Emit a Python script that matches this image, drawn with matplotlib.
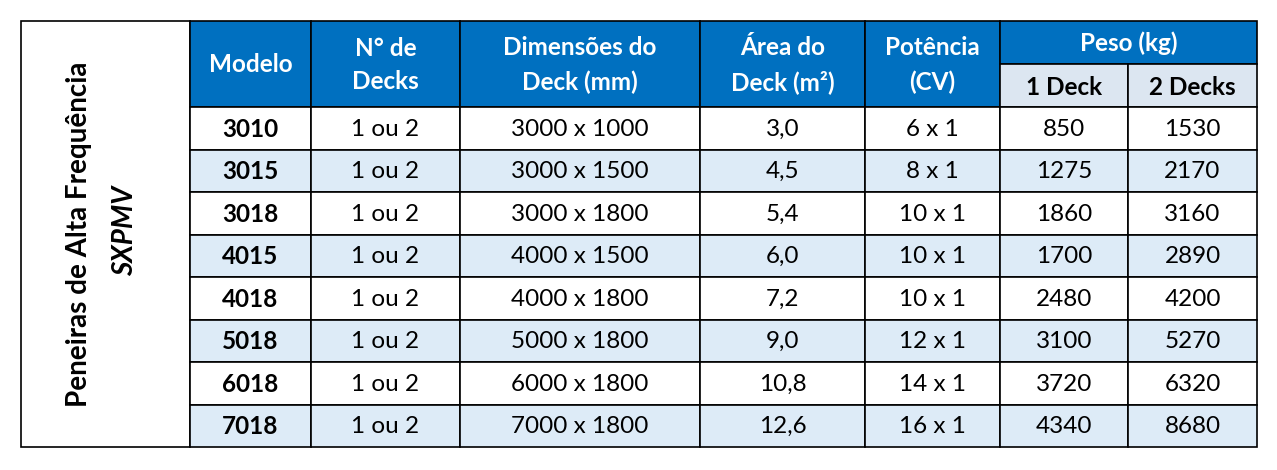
import matplotlib
matplotlib.use("Agg")
import matplotlib.pyplot as plt
from matplotlib.patches import Rectangle

plt.rcParams['font.family'] = ['Lato', 'DejaVu Sans']

# =================================================
# DATA
# =================================================
modelos = ["3010", "3015", "3018", "4015", "4018", "5018", "6018", "7018"]
decks = ["1 ou 2"] * 8
dimensoes = ["3000 x 1000", "3000 x 1500", "3000 x 1800", "4000 x 1500",
             "4000 x 1800", "5000 x 1800", "6000 x 1800", "7000 x 1800"]
areas = ["3,0", "4,5", "5,4", "6,0", "7,2", "9,0", "10,8", "12,6"]
potencias = ["6 x 1", "8 x 1", "10 x 1", "10 x 1", "10 x 1", "12 x 1", "14 x 1", "16 x 1"]
peso_1 = ["850", "1275", "1860", "1700", "2480", "3100", "3720", "4340"]
peso_2 = ["1530", "2170", "3160", "2890", "4200", "5270", "6320", "8680"]
headers = ["Modelo", "N° de\nDecks", "Dimensões do\nDeck (mm)", "Área do\nDeck (m²)", "Potência\n(CV)"]
sub_headers = ["1 Deck", "2 Decks"]

# =================================================
# LAYOUT (pixels)
# =================================================
BLUE = "#0070c0"
SUB = "#dce6f1"
ALT = "#ddebf7"
FS = 17.5
cols = [190, 311, 460, 700, 865, 1000, 1128, 1257]
top, hdr_mid, hdr_bot, bottom = 21, 64, 107, 447
row_h = (bottom - hdr_bot) / len(modelos)

fig = plt.figure(figsize=(12.77, 4.70), dpi=100)
ax = fig.add_axes([0, 0, 1, 1])
ax.set_xlim(0, 1277)
ax.set_ylim(470, 0)
ax.axis("off")

def cell(x0, x1, y0, y1, color, lw=1.2):
    ax.add_patch(Rectangle((x0, y0), x1 - x0, y1 - y0, facecolor=color,
                           edgecolor="black", linewidth=lw))

# left title cell
cell(21, cols[0], top, bottom, "white")
ax.text(79, (top + bottom) / 2, "Peneiras de Alta Frequência", rotation=90,
        ha="center", va="center", fontsize=20, fontweight="bold")
ax.text(125, (top + bottom) / 2 - 3, "SXPMV", rotation=90, ha="center",
        va="center", fontsize=20, fontweight="bold", style="italic")

# header
for i, h in enumerate(headers):
    cell(cols[i], cols[i + 1], top, hdr_bot, BLUE)
    ax.text((cols[i] + cols[i + 1]) / 2, (top + hdr_bot) / 2 + 1, h, ha="center",
            va="center", color="white", fontsize=FS, fontweight="bold", linespacing=1.55)
cell(cols[5], cols[7], top, hdr_mid, BLUE)
ax.text((cols[5] + cols[7]) / 2, (top + hdr_mid) / 2 + 1, "Peso (kg)", ha="center",
        va="center", color="white", fontsize=FS, fontweight="bold")
for j, s in enumerate(sub_headers):
    cell(cols[5 + j], cols[6 + j], hdr_mid, hdr_bot, SUB)
    ax.text((cols[5 + j] + cols[6 + j]) / 2, (hdr_mid + hdr_bot) / 2 + 2, s,
            ha="center", va="center", fontsize=FS, fontweight="bold")

# body
columns = [modelos, decks, dimensoes, areas, potencias, peso_1, peso_2]
for r in range(len(modelos)):
    y0 = hdr_bot + r * row_h
    bg = ALT if r % 2 else "white"
    for c, vals in enumerate(columns):
        cell(cols[c], cols[c + 1], y0, y0 + row_h, bg)
        ax.text((cols[c] + cols[c + 1]) / 2, y0 + row_h / 2 + 1, vals[r],
                ha="center", va="center", fontsize=FS,
                fontweight="bold" if c == 0 else "normal")

fig.savefig("out.png", dpi=100, facecolor="white")
